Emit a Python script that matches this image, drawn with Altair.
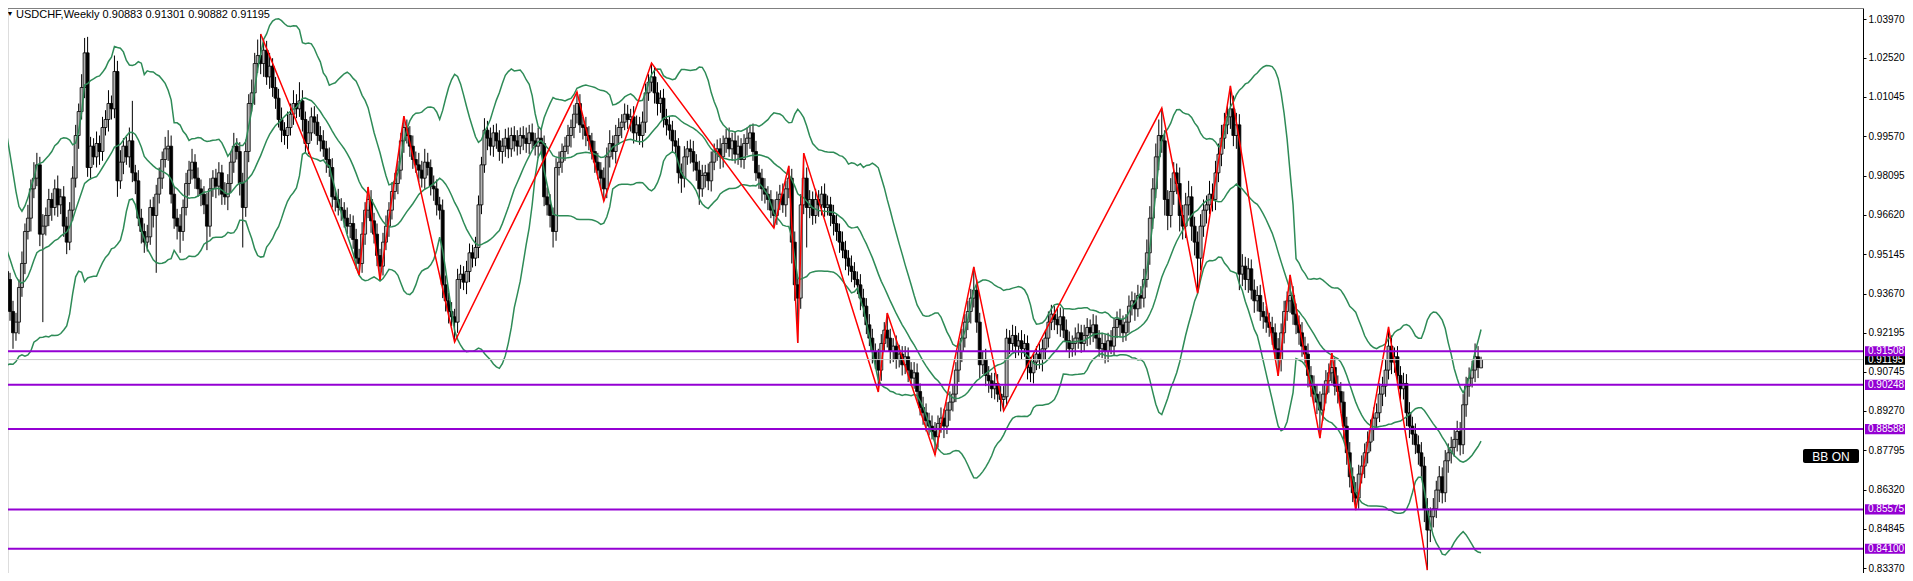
import altair as alt
import pandas as pd

# ---------------- data (prices x 1e-4) ----------------
pre_closes = [9880, 9950, 9920, 9860, 9760, 9600, 9450, 9300, 9200, 9150,
              9280, 9420, 9560, 9500, 9620, 9480, 9550, 9600, 9500, 9450]

closes = [
    9420, 9300, 9220, 9260, 9390, 9480, 9600, 9650, 9760, 9800,
    9850, 9590, 9620, 9660, 9720, 9690, 9760, 9700, 9730, 9620,
    9560, 9680, 9800, 9960, 10050, 10140, 10270, 9840, 9920, 9880,
    9930, 9900, 9990, 10020, 10080, 10060, 10200, 9790, 9860, 9920,
    9880, 9940, 9820, 9790, 9650, 9600, 9560, 9580, 9690, 9660,
    9740, 9800, 9870, 9910, 9920, 9740, 9650, 9620, 9600, 9690,
    9780, 9830, 9860, 9800, 9760, 9740, 9700, 9620, 9760, 9800,
    9770, 9820, 9740, 9730, 9780, 9860, 9920, 9900, 9780, 9690,
    9900, 10080, 10120, 10230, 10260, 10230, 10280, 10180, 10220, 10140,
    10100, 10020, 9980, 9960, 9990, 10040, 10080, 10060, 10090, 10020,
    9930, 9970, 10030, 10010, 9960, 9940, 9910, 9870, 9840, 9730,
    9720, 9690, 9680, 9650, 9620, 9630, 9570, 9500, 9480, 9590,
    9680, 9720, 9640, 9590, 9510, 9470, 9560, 9620, 9680, 9750,
    9780, 9830, 9940, 9990, 9960, 9920, 9870, 9850, 9830, 9800,
    9860, 9840, 9770, 9760, 9700, 9680, 9400, 9340, 9300, 9280,
    9260, 9420, 9440, 9410, 9450, 9520, 9500, 9540, 9700, 9850,
    9980, 9950, 9920, 9970, 9940, 9900, 9920, 9950, 9910, 9960,
    9940, 9920, 9960, 9950, 9930, 9970, 9940, 9920, 9950, 9930,
    9730, 9700, 9660, 9600, 9840, 9860, 9900, 9920, 9960, 9990,
    10040, 10080, 10000, 9990, 9960, 9940, 9900, 9860, 9830, 9800,
    9760, 9880, 9930, 9900, 9960, 9990, 10010, 10040, 10020, 10030,
    9970, 10000, 9960, 10010, 10120, 10160, 10180, 10120, 10080, 10100,
    10020, 10000, 9980, 9940, 9920, 9820, 9800, 9880, 9910, 9900,
    9860, 9830, 9760, 9810, 9820, 9790, 9860, 9900, 9910, 9880,
    9930, 9950, 9910, 9940, 9890, 9920, 9870, 9930, 9950, 9970,
    9900, 9820, 9800, 9760, 9740, 9720, 9680, 9660, 9720, 9740,
    9700, 9760, 9800, 9560, 9400, 9350, 9700, 9800, 9690, 9720,
    9660, 9720, 9700, 9740, 9690, 9700, 9660, 9630, 9600, 9560,
    9530, 9500, 9470, 9450, 9420, 9400, 9350, 9320, 9250, 9200,
    9150, 9120, 9080, 9180, 9230, 9200, 9150, 9170, 9120, 9140,
    9100, 9130, 9080, 9050, 9070, 9000, 8940, 8920, 8890, 8870,
    8850, 8830, 8880, 8900, 8870, 8930, 8960, 8990, 9080, 9150,
    9200, 9260, 9300, 9350, 9380, 9260, 9100, 9120, 9060, 9040,
    9010, 9030, 8990, 8970, 8980, 9200, 9180, 9210, 9170, 9190,
    9160, 9180, 9090, 9070, 9110, 9140, 9120, 9160, 9200, 9260,
    9290, 9270, 9250, 9280, 9230, 9190, 9160, 9180, 9200, 9220,
    9180, 9210, 9240, 9220, 9250, 9200, 9160, 9180, 9150, 9190,
    9170, 9240, 9270, 9250, 9220, 9260, 9320, 9340, 9310, 9360,
    9350, 9420, 9520, 9650, 9760, 9880, 9960, 9940, 9720, 9660,
    9750, 9820, 9780, 9660, 9620, 9700, 9730, 9620, 9560, 9500,
    9620, 9680, 9700, 9740, 9720, 9820, 9890, 9950, 10000, 10030,
    10060, 9960, 10000, 9440, 9470, 9420, 9460, 9380, 9340, 9360,
    9300, 9280, 9260, 9240, 9220, 9160, 9120, 9220, 9300, 9340,
    9360, 9290, 9250, 9220, 9170, 9140, 9060, 9020, 8990, 8960,
    8930, 8990, 9040, 9070, 9090, 9020, 9000, 8960, 8870, 8770,
    8680, 8620, 8600, 8690, 8720, 8770, 8810, 8860, 8900, 8920,
    8990, 9020, 9080, 9170, 9110, 9130, 9060, 9010, 9030, 8920,
    8870, 8840, 8800, 8770, 8720, 8560, 8480, 8530, 8560, 8630,
    8680, 8620, 8740, 8770, 8790, 8820, 8850, 8800, 8950, 9020,
    9050, 9080, 9130, 9090, 9120,
]

upper_wick = [
    30, 25, 40, 35, 30, 45, 30, 50, 35, 60,
    45, 30, 45, 30, 40, 25, 35, 50, 30, 40,
    35, 30, 45, 40, 30, 50, 56, 60, 35, 30,
    45, 30, 40, 35, 50, 30, 60, 40, 45, 30,
    35, 50, 150, 30, 40, 35, 30, 45, 30, 40,
    35, 40, 30, 45, 60, 40, 30, 35, 45, 30,
    40, 35, 50, 30, 40, 35, 30, 45, 40, 30,
    35, 40, 30, 45, 35, 40, 50, 30, 35, 40,
    45, 35, 50, 40, 60, 81, 40, 35, 50, 30,
    40, 35, 45, 30, 60, 40, 50, 35, 70, 40,
    30, 45, 35, 40, 30, 35, 40, 30, 45, 35,
    30, 40, 35, 30, 40, 35, 30, 40, 35, 45,
    30, 47, 35, 30, 40, 25, 35, 40, 30, 35,
    40, 35, 30, 43, 30, 35, 40, 30, 45, 35,
    50, 35, 30, 40, 35, 30, 40, 35, 30, 35,
    30, 40, 35, 30, 40, 35, 30, 40, 35, 30,
    45, 35, 40, 30, 35, 40, 30, 35, 40, 30,
    35, 40, 30, 35, 40, 30, 35, 30, 40, 35,
    30, 35, 40, 30, 35, 40, 30, 35, 40, 30,
    35, 43, 35, 30, 40, 35, 30, 40, 35, 30,
    40, 35, 50, 30, 40, 35, 30, 40, 35, 30,
    40, 35, 30, 40, 35, 30, 52, 35, 40, 30,
    35, 40, 30, 35, 40, 30, 35, 40, 30, 35,
    40, 30, 35, 40, 30, 35, 40, 30, 35, 40,
    30, 35, 40, 30, 35, 40, 30, 35, 40, 30,
    35, 40, 30, 35, 40, 30, 35, 40, 30, 35,
    40, 30, 46, 35, 40, 30, 40, 94, 40, 35,
    30, 40, 35, 30, 40, 35, 30, 40, 35, 30,
    40, 35, 30, 40, 35, 30, 40, 35, 30, 40,
    35, 30, 40, 35, 30, 64, 35, 30, 40, 35,
    30, 40, 35, 30, 40, 35, 30, 40, 35, 30,
    40, 35, 30, 40, 35, 30, 40, 35, 30, 40,
    35, 30, 40, 35, 87, 40, 35, 30, 40, 35,
    30, 40, 35, 30, 40, 35, 30, 40, 35, 30,
    40, 35, 30, 40, 35, 30, 40, 35, 30, 40,
    35, 30, 40, 35, 30, 40, 35, 30, 40, 35,
    30, 40, 35, 30, 40, 35, 30, 40, 35, 30,
    40, 35, 30, 40, 35, 30, 40, 35, 30, 40,
    35, 40, 50, 45, 40, 50, 60, 103, 40, 35,
    50, 40, 35, 60, 40, 45, 60, 40, 35, 40,
    45, 40, 35, 50, 40, 45, 40, 50, 45, 40,
    86, 50, 45, 40, 45, 35, 40, 35, 40, 35,
    40, 35, 40, 35, 40, 35, 40, 35, 40, 35,
    77, 35, 40, 35, 40, 35, 40, 35, 40, 35,
    40, 35, 40, 35, 54, 35, 40, 35, 40, 35,
    40, 35, 40, 35, 40, 35, 40, 35, 40, 35,
    40, 35, 40, 72, 40, 35, 40, 35, 40, 35,
    40, 35, 40, 35, 40, 35, 40, 35, 40, 35,
    40, 35, 40, 35, 40, 35, 40, 35, 40, 35,
    40, 35, 50, 40, 10,
]

lower_wick = [
    40, 35, 60, 30, 45, 35, 40, 30, 50, 35,
    30, 45, 330, 35, 40, 50, 30, 45, 35, 40,
    45, 30, 40, 35, 50, 30, 40, 35, 45, 30,
    40, 50, 35, 30, 45, 40, 35, 60, 30, 45,
    30, 40, 35, 50, 30, 45, 40, 35, 30, 45,
    215, 35, 40, 30, 45, 35, 40, 50, 80, 35,
    30, 45, 35, 40, 30, 45, 35, 90, 40, 30,
    45, 35, 40, 30, 50, 35, 40, 30, 45, 150,
    35, 40, 30, 45, 35, 40, 50, 30, 45, 35,
    40, 30, 45, 35, 50, 30, 40, 35, 30, 45,
    35, 40, 30, 45, 35, 40, 30, 50, 35, 40,
    45, 30, 40, 35, 30, 45, 35, 40, 43, 35,
    40, 30, 45, 35, 40, 52, 35, 30, 40, 35,
    30, 40, 35, 45, 30, 40, 35, 30, 45, 35,
    40, 30, 35, 45, 40, 35, 50, 40, 45, 35,
    75, 40, 35, 30, 45, 40, 35, 30, 40, 35,
    30, 45, 35, 40, 30, 35, 45, 40, 35, 30,
    40, 35, 30, 45, 35, 40, 30, 35, 45, 40,
    35, 40, 45, 60, 35, 30, 40, 35, 30, 45,
    40, 35, 30, 45, 40, 35, 30, 40, 35, 45,
    46, 35, 40, 30, 45, 35, 40, 30, 35, 45,
    40, 30, 35, 45, 40, 30, 35, 40, 45, 35,
    30, 40, 35, 45, 30, 40, 55, 35, 30, 45,
    35, 40, 60, 30, 45, 35, 40, 30, 35, 45,
    40, 35, 30, 45, 35, 40, 30, 35, 45, 40,
    35, 30, 40, 45, 35, 40, 30, 47, 35, 40,
    30, 45, 35, 80, 60, 168, 40, 35, 150, 40,
    35, 30, 45, 40, 35, 30, 40, 45, 35, 40,
    30, 45, 35, 40, 30, 35, 45, 40, 35, 30,
    45, 35, 82, 40, 30, 35, 45, 40, 35, 30,
    40, 35, 45, 30, 40, 35, 30, 45, 40, 35,
    30, 68, 40, 35, 45, 30, 40, 35, 30, 45,
    40, 35, 30, 45, 35, 40, 50, 35, 40, 45,
    35, 40, 30, 45, 43, 35, 40, 30, 45, 35,
    40, 30, 45, 35, 40, 30, 35, 45, 40, 35,
    30, 40, 35, 45, 30, 40, 35, 30, 45, 40,
    35, 30, 40, 45, 35, 40, 30, 35, 45, 40,
    30, 35, 40, 45, 35, 30, 40, 35, 45, 30,
    40, 35, 30, 45, 40, 35, 50, 45, 60, 55,
    45, 50, 40, 60, 50, 45, 40, 55, 50, 131,
    45, 40, 50, 35, 45, 40, 35, 45, 40, 35,
    45, 40, 50, 60, 45, 40, 50, 35, 45, 40,
    35, 45, 40, 35, 45, 40, 62, 45, 40, 35,
    45, 40, 35, 45, 40, 35, 45, 40, 35, 45,
    105, 40, 35, 45, 40, 35, 45, 40, 50, 45,
    40, 35, 45, 40, 35, 45, 40, 35, 45, 40,
    35, 45, 40, 35, 45, 40, 35, 45, 40, 50,
    45, 40, 35, 45, 40, 50, 150, 45, 40, 35,
    45, 40, 35, 45, 40, 35, 45, 40, 35, 45,
    40, 35, 45, 40, 2,
]

last_ohlc = [0.90883, 0.91301, 0.90882, 0.91195]

zz_idx = [85, 118, 121, 125, 133, 150, 191, 200, 216, 257, 262, 265, 267, 292,
          295, 311, 324, 334, 387, 399, 410, 426, 430, 440, 444, 452, 463, 476]
zz_price = [1.0341, 0.9437, 0.9767, 0.9418, 1.0033, 0.9185, 1.0123, 0.9714,
            1.0232, 0.9613, 0.9846, 0.9182, 0.9894, 0.8998, 0.9294, 0.8762,
            0.9467, 0.8927, 1.0063, 0.9369, 1.0146, 0.9058, 0.9437, 0.8825,
            0.9144, 0.8555, 0.9242, 0.8330]

levels = [0.91508, 0.90248, 0.88588, 0.85575, 0.84100]
current_price = 0.91195
tick_values = [1.03970, 1.02520, 1.01045, 0.99570, 0.98095, 0.96620, 0.95145,
               0.93670, 0.92195, 0.90745, 0.89270, 0.87795, 0.86320, 0.84845,
               0.83370]
title_text = "USDCHF,Weekly  0.90883 0.91301 0.90882 0.91195"

# ---------------- tables ----------------
rows = []
prev = pre_closes[-1]
for i, (c, u, l) in enumerate(zip(closes, upper_wick, lower_wick)):
    o = prev
    rows.append(dict(idx=i, open=o / 1e4, close=c / 1e4,
                     high=(max(o, c) + u) / 1e4, low=(min(o, c) - l) / 1e4))
    prev = c
rows[-1].update(open=last_ohlc[0], high=last_ohlc[1], low=last_ohlc[2], close=last_ohlc[3])
candles = pd.DataFrame(rows)

bb_df = pd.DataFrame({
    "idx": list(range(-len(pre_closes), 0)) + list(candles["idx"]),
    "close": [p / 1e4 for p in pre_closes] + list(candles["close"]),
})

zz_df = pd.DataFrame({"idx": zz_idx, "price": zz_price})

HALF = 0.0019
lvl_df = pd.DataFrame({"price": levels})
lvl_df["label"] = lvl_df["price"].map(lambda v: f"{v:.5f}")
lvl_df["top"] = lvl_df["price"] + HALF
lvl_df["bot"] = lvl_df["price"] - HALF

cur_df = pd.DataFrame({"price": [current_price]})
cur_df["label"] = cur_df["price"].map(lambda v: f"{v:.5f}")
cur_df["top"] = cur_df["price"] + HALF
cur_df["bot"] = cur_df["price"] - HALF

# ---------------- scales ----------------
W, H = 1855, 565
FONT = "Liberation Sans"
xsc = alt.Scale(domain=[2, 2 + W / 3.0], nice=False, zero=False)
ysc = alt.Scale(domain=[0.83190, 1.04383], nice=False, zero=False)
yax = alt.Axis(orient="right", values=tick_values, format=".5f", grid=False,
               title=None, labelFont=FONT, labelFontSize=10, labelColor="#000000",
               tickColor="#000000", tickSize=3, labelPadding=2,
               domainColor="#000000", domainWidth=1, labelBaseline="middle",
               labelOverlap=False, labelFlush=False)

X = alt.X("idx:Q", scale=xsc, axis=None)


def Y(field):
    return alt.Y(field, type="quantitative", scale=ysc, axis=yax)


wicks = alt.Chart(candles).mark_rule(color="#000000", strokeWidth=1, clip=True).encode(
    x=X, y=Y("low"), y2="high")

bodies = alt.Chart(candles).mark_bar(size=3, stroke="#000000", strokeWidth=0.8, clip=True).encode(
    x=X, y=Y("open"), y2="close",
    fill=alt.condition("datum.close >= datum.open", alt.value("#b4b4b4"), alt.value("#000000")))

bb_base = alt.Chart(bb_df).transform_window(
    window=[alt.WindowFieldDef(op="mean", field="close", **{"as": "mid"}),
            alt.WindowFieldDef(op="stdevp", field="close", **{"as": "sd"})],
    frame=[-19, 0], sort=[alt.SortField("idx")]
).transform_calculate(up="datum.mid + 2*datum.sd", lo="datum.mid - 2*datum.sd")

GREEN = "#2E8B57"
bb_mid = bb_base.mark_line(color=GREEN, strokeWidth=1.5, clip=True).encode(x=X, y=Y("mid"))
bb_up = bb_base.mark_line(color=GREEN, strokeWidth=1.5, clip=True).encode(x=X, y=Y("up"))
bb_lo = bb_base.mark_line(color=GREEN, strokeWidth=1.5, clip=True).encode(x=X, y=Y("lo"))

zigzag = alt.Chart(zz_df).mark_line(color="#FF0000", strokeWidth=1.5, clip=True).encode(
    x=X, y=Y("price"))

cur_line = alt.Chart(cur_df).mark_rule(color="#C8C8C8", strokeWidth=1).encode(y=Y("price"))
lvl_lines = alt.Chart(lvl_df).mark_rule(color="#9400D3", strokeWidth=2).encode(y=Y("price"))

BX0, BX1 = W + 2, W + 42
cur_box = alt.Chart(cur_df).mark_rect(color="#000000").encode(
    x=alt.value(BX0), x2=alt.value(BX1), y=Y("top"), y2="bot")
cur_txt = alt.Chart(cur_df).mark_text(color="#ffffff", align="left", baseline="middle",
                                      font=FONT, fontSize=10).encode(
    x=alt.value(BX0 + 3), y=Y("price"), text="label:N")
lvl_box = alt.Chart(lvl_df).mark_rect(color="#9400D3").encode(
    x=alt.value(BX0), x2=alt.value(BX1), y=Y("top"), y2="bot")
lvl_txt = alt.Chart(lvl_df).mark_text(color="#ffffff", align="left", baseline="middle",
                                      font=FONT, fontSize=10).encode(
    x=alt.value(BX0 + 3), y=Y("price"), text="label:N")

top_rule = alt.Chart(zz_df).mark_rule(color="#808080", strokeWidth=1).encode(
    x=alt.value(0), x2=alt.value(W), y=alt.value(0.5))

bbon_df = pd.DataFrame({"t": ["BB ON"]})
bbon_box = alt.Chart(bbon_df).mark_rect(color="#000000", cornerRadius=2).encode(
    x=alt.value(1795), x2=alt.value(1851), y=alt.value(441), y2=alt.value(455))
bbon_txt = alt.Chart(bbon_df).mark_text(color="#ffffff", align="center", baseline="middle",
                                        font=FONT, fontSize=12).encode(
    x=alt.value(1823), y=alt.value(448.5), text="t:N")

title_df = pd.DataFrame({"t": [title_text]})
title_tri = alt.Chart(title_df).mark_text(text="▼", color="#000000", align="center",
                                          baseline="middle", fontSize=7, font=FONT).encode(
    x=alt.value(2), y=alt.value(6))
title_txt = alt.Chart(title_df).mark_text(color="#000000", align="left", baseline="middle",
                                          font=FONT, fontSize=11).encode(
    x=alt.value(8), y=alt.value(6.5), text="t:N")

chart = alt.layer(
    wicks, bodies, bb_up, bb_mid, bb_lo, zigzag, cur_line, lvl_lines,
    cur_box, cur_txt, lvl_box, lvl_txt, top_rule, bbon_box, bbon_txt,
    title_tri, title_txt,
).properties(
    width=W, height=H,
    autosize=alt.AutoSizeParams(type="none"),
    padding={"left": 0, "top": 0, "right": 42, "bottom": 0},
).configure_view(stroke=None).configure(background="#ffffff")

chart.save("out.html", embed_options={"renderer": "svg", "actions": False})
